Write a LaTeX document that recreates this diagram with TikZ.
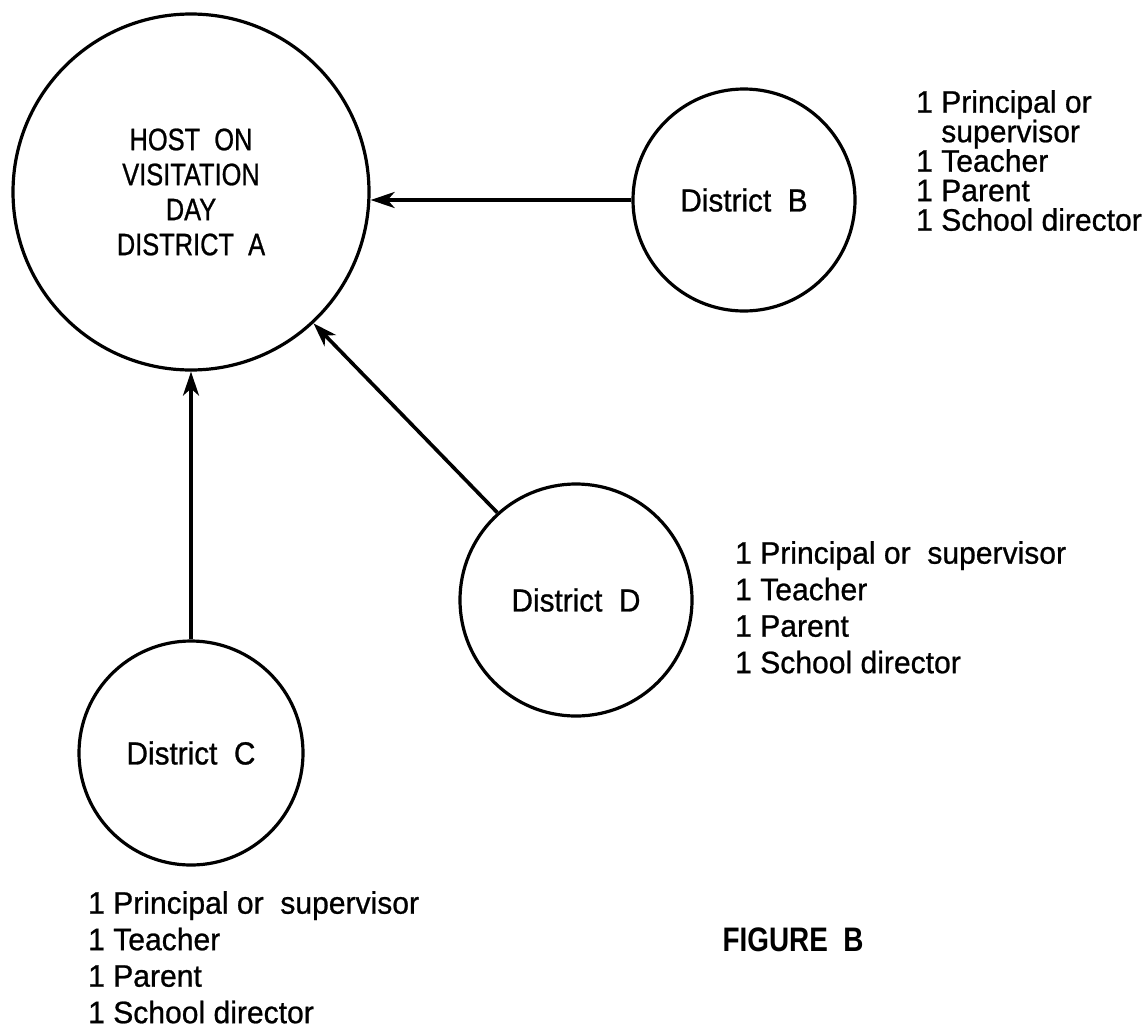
\documentclass[tikz,border=0pt]{standalone}
\usepackage{fontspec}
\setmainfont{Liberation Sans}
\newfontfamily\listfont[FakeStretch=0.97,FakeBold=0.8]{Liberation Sans}
\newfontfamily\labfont[FakeStretch=0.93,FakeBold=0.8]{Liberation Sans}
\newfontfamily\capfont[FakeStretch=0.82,FakeBold=0.8]{Liberation Sans}
\newfontfamily\figfont[FakeStretch=0.82]{Liberation Sans Bold}
\usetikzlibrary{arrows.meta}
\begin{document}
\begin{tikzpicture}[x=1pt,y=-1pt,
  district/.style={circle, draw, line width=3.2pt, inner sep=0pt, align=center,
     font=\labfont\fontsize{32}{34}\selectfont},
  members/.style={anchor=north west, align=left, inner sep=0pt,
     font=\listfont\fontsize{31}{36.5}\selectfont},
  link/.style={line width=3.6pt, -{Stealth[length=24pt,width=16pt,inset=7pt]}}]
\useasboundingbox (0,0) rectangle (1147,1028);
\node[district, minimum size=356pt, font=\capfont\fontsize{31}{35}\selectfont] (A) at (191,192)
  {HOST\ \ ON\\VISITATION\\DAY\\DISTRICT\ \ A};
\node[district, minimum size=222pt] (B) at (744,200) {District\ \ B};
\node[district, minimum size=232pt] (D) at (576,600) {District\ \ D};
\node[district, minimum size=224pt] (C) at (191,753) {District\ \ C};
\draw[link] (B.west) -- (B.west -| A.east);
\draw[link] (D.132) -- (A.-47.5);
\draw[link] (C.north) -- (A.south);
\node[members, font=\listfont\fontsize{31}{29.5}\selectfont] (LB) at (916,90) {1 Principal or\\\phantom{1 }supervisor\\1 Teacher\\1 Parent\\1 School director};
\node[members] (LD) at (735,541) {1 Principal or\ \ supervisor\\1 Teacher\\1 Parent\\1 School director};
\node[members] (LC) at (88,891) {1 Principal or\ \ supervisor\\1 Teacher\\1 Parent\\1 School director};
\node[font=\figfont\fontsize{34}{36}\selectfont] (fig) at (793,940) {FIGURE\ \ B};
\end{tikzpicture}
\end{document}
